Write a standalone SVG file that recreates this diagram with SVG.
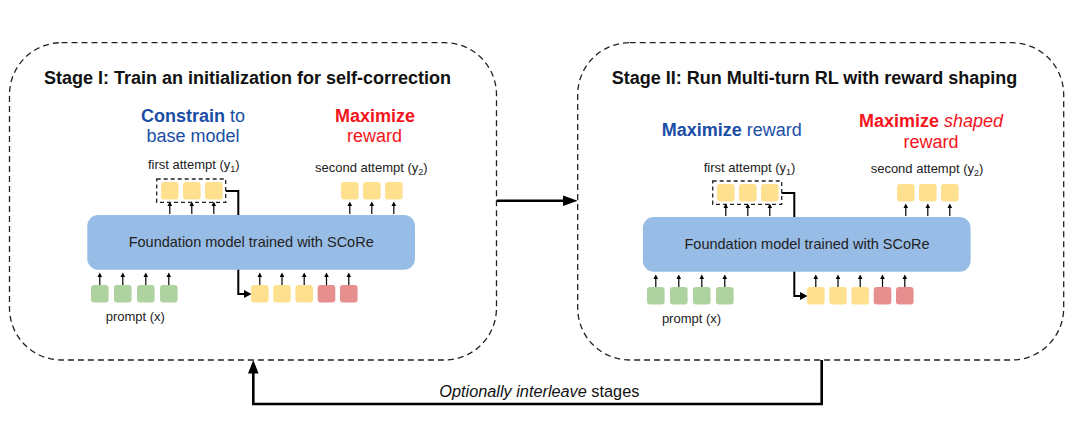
<svg xmlns="http://www.w3.org/2000/svg" xmlns:xlink="http://www.w3.org/1999/xlink" width="1075" height="440" viewBox="0 0 1075 440">
<style>
.title{font-family:"Liberation Sans",Arial,sans-serif;font-weight:bold;font-size:18px;fill:#111}
.obj{font-family:"Liberation Sans",Arial,sans-serif;font-size:18px}
.b{font-weight:bold}
.it{font-style:italic}
.blue{fill:#1A4EA5}
.red{fill:#F5141B}
.lbl{font-family:"Liberation Sans",Arial,sans-serif;font-size:13px;fill:#222}
.sub{font-size:9px}
.model{font-family:"Liberation Sans",Arial,sans-serif;font-size:14.5px;fill:#222}
.note{font-family:"Liberation Sans",Arial,sans-serif;font-size:16.3px;fill:#111}
.panel{fill:none;stroke:#222;stroke-width:1.3;stroke-dasharray:6 4}
.grp{fill:none;stroke:#222;stroke-width:1.3;stroke-dasharray:4 3}
.y{fill:#FEE08E}
.g{fill:#AFD3A0}
.r{fill:#E68F8E}
.box{fill:#97BCE5}
.conn{fill:none;stroke:#000;stroke-width:2}
.thick{fill:none;stroke:#000;stroke-width:2.6}
.head{fill:#000}
.sm{stroke:#000;stroke-width:1.2}
</style>
<defs>
<g id="ua"><line x1="0" y1="0" x2="0" y2="-9" class="sm"/><path d="M-2.3,-8 L2.3,-8 L0,-12.5 Z" class="head"/></g>
<rect id="tok" width="17.6" height="17.6" rx="3"/>
</defs>

<g id="connectors">
  <!-- stage I to stage II -->
  <path class="thick" d="M496.7,200.7 H565"/>
  <path class="head" d="M577.7,200.7 L563,195.5 L563,205.9 Z"/>
  <!-- interleave loop -->
  <path class="thick" d="M821.7,360 V404 H253.3 V372"/>
  <path class="head" d="M253.3,360 L248,373.5 L258.6,373.5 Z"/>
  <!-- stage I first attempt to second-turn input -->
  <path class="conn" d="M225.7,191 H238.3 V294 H245"/>
  <path class="head" d="M251.5,294 L244,290 L244,298 Z"/>
  <!-- stage II first attempt to second-turn input -->
  <path class="conn" d="M781.7,193 H794.3 V296 H801"/>
  <path class="head" d="M807.5,296 L800,292 L800,300 Z"/>
  <!-- stage I small arrows -->
  <use href="#ua" x="169.8" y="214"/><use href="#ua" x="191.8" y="214"/><use href="#ua" x="213.8" y="214"/>
  <use href="#ua" x="349.8" y="214"/><use href="#ua" x="371.8" y="214"/><use href="#ua" x="393.8" y="214"/>
  <use href="#ua" x="99.8" y="285"/><use href="#ua" x="122.8" y="285"/><use href="#ua" x="145.8" y="285"/><use href="#ua" x="168.8" y="285"/>
  <use href="#ua" x="259.8" y="285"/><use href="#ua" x="282" y="285"/><use href="#ua" x="304.2" y="285"/><use href="#ua" x="326.5" y="285"/><use href="#ua" x="348.8" y="285"/>
  <!-- stage II small arrows -->
  <use href="#ua" x="725.8" y="216"/><use href="#ua" x="747.8" y="216"/><use href="#ua" x="769.8" y="216"/>
  <use href="#ua" x="905.8" y="216"/><use href="#ua" x="927.8" y="216"/><use href="#ua" x="949.8" y="216"/>
  <use href="#ua" x="655.8" y="287"/><use href="#ua" x="678.8" y="287"/><use href="#ua" x="701.8" y="287"/><use href="#ua" x="724.8" y="287"/>
  <use href="#ua" x="815.8" y="287"/><use href="#ua" x="838" y="287"/><use href="#ua" x="860.2" y="287"/><use href="#ua" x="882.5" y="287"/><use href="#ua" x="904.8" y="287"/>
  <text class="note" x="439.3" y="396.7"><tspan class="it">Optionally interleave</tspan> stages</text>
</g>

<!-- ===== Stage I ===== -->
<g id="stage1">
  <rect class="panel" x="9.5" y="42.7" width="487" height="317.3" rx="52"/>
  <text class="title" x="44" y="84">Stage I: Train an initialization for self-correction</text>
</g>
<g id="s1-constrain">
  <text class="obj blue" x="193" y="121.7" text-anchor="middle"><tspan class="b">Constrain</tspan> to</text>
  <text class="obj blue" x="193" y="142.3" text-anchor="middle">base model</text>
</g>
<g id="s1-maximize">
  <text class="obj red b" x="375" y="121.7" text-anchor="middle">Maximize</text>
  <text class="obj red" x="374.5" y="142.3" text-anchor="middle">reward</text>
</g>
<g id="s1-first-attempt">
  <text class="lbl" x="193.8" y="169.3" text-anchor="middle">first attempt (y<tspan class="sub" dy="3">1</tspan><tspan dy="-3">)</tspan></text>
  <rect class="grp" x="156.7" y="179" width="69" height="23.3"/>
  <use href="#tok" class="y" x="161" y="182"/><use href="#tok" class="y" x="183" y="182"/><use href="#tok" class="y" x="205" y="182"/>
</g>
<g id="s1-second-attempt">
  <text class="lbl" x="371.3" y="171.7" text-anchor="middle">second attempt (y<tspan class="sub" dy="3">2</tspan><tspan dy="-3">)</tspan></text>
  <use href="#tok" class="y" x="341" y="182"/><use href="#tok" class="y" x="363" y="182"/><use href="#tok" class="y" x="385" y="182"/>
</g>
<g id="s1-model">
  <rect class="box" x="87.3" y="215" width="327.7" height="54.7" rx="11"/>
  <text class="model" x="251.2" y="246.7" text-anchor="middle">Foundation model trained with SCoRe</text>
</g>
<g id="s1-prompt">
  <use href="#tok" class="g" x="91" y="285"/><use href="#tok" class="g" x="114" y="285"/><use href="#tok" class="g" x="137" y="285"/><use href="#tok" class="g" x="160" y="285"/>
  <text class="lbl" x="135.3" y="320.7" text-anchor="middle">prompt (x)</text>
</g>
<g id="s1-response">
  <use href="#tok" class="y" x="251" y="285"/><use href="#tok" class="y" x="273.2" y="285"/><use href="#tok" class="y" x="295.4" y="285"/>
  <use href="#tok" class="r" x="317.7" y="285"/><use href="#tok" class="r" x="340" y="285"/>
</g>

<!-- ===== Stage II ===== -->
<g id="stage2">
  <rect class="panel" x="577.7" y="42.7" width="486" height="317.3" rx="52"/>
  <text class="title" x="611.7" y="84">Stage II: Run Multi-turn RL with reward shaping</text>
</g>
<g id="s2-maximize">
  <text class="obj blue" x="731.7" y="136" text-anchor="middle"><tspan class="b">Maximize</tspan> reward</text>
</g>
<g id="s2-maximize-shaped">
  <text class="obj red" x="931" y="126.7" text-anchor="middle"><tspan class="b">Maximize</tspan> <tspan class="it">shaped</tspan></text>
  <text class="obj red" x="931" y="148.3" text-anchor="middle">reward</text>
</g>
<g id="s2-first-attempt">
  <text class="lbl" x="749.5" y="171.7" text-anchor="middle">first attempt (y<tspan class="sub" dy="3">1</tspan><tspan dy="-3">)</tspan></text>
  <rect class="grp" x="712.7" y="181" width="69" height="23.3"/>
  <use href="#tok" class="y" x="717" y="184"/><use href="#tok" class="y" x="739" y="184"/><use href="#tok" class="y" x="761" y="184"/>
</g>
<g id="s2-second-attempt">
  <text class="lbl" x="927" y="172.7" text-anchor="middle">second attempt (y<tspan class="sub" dy="3">2</tspan><tspan dy="-3">)</tspan></text>
  <use href="#tok" class="y" x="897" y="184"/><use href="#tok" class="y" x="919" y="184"/><use href="#tok" class="y" x="941" y="184"/>
</g>
<g id="s2-model">
  <rect class="box" x="642.9" y="217" width="327.7" height="54.7" rx="11"/>
  <text class="model" x="807" y="248.7" text-anchor="middle">Foundation model trained with SCoRe</text>
</g>
<g id="s2-prompt">
  <use href="#tok" class="g" x="647" y="287"/><use href="#tok" class="g" x="670" y="287"/><use href="#tok" class="g" x="693" y="287"/><use href="#tok" class="g" x="716" y="287"/>
  <text class="lbl" x="691.5" y="322.7" text-anchor="middle">prompt (x)</text>
</g>
<g id="s2-response">
  <use href="#tok" class="y" x="807" y="287"/><use href="#tok" class="y" x="829.2" y="287"/><use href="#tok" class="y" x="851.4" y="287"/>
  <use href="#tok" class="r" x="873.7" y="287"/><use href="#tok" class="r" x="896" y="287"/>
</g>
</svg>
